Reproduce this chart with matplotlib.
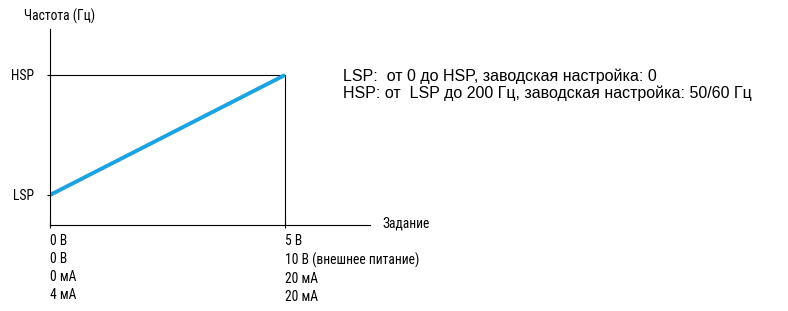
import matplotlib
matplotlib.use("Agg")
import matplotlib.pyplot as plt

# data
x_ref = [0, 5]              # setpoint, V (scale end = 5 V)
freq = [10, 50]             # LSP -> HSP (arbitrary units)
y_ticks = [10, 50]
y_labels = ["LSP", "HSP"]
x_labels = ["0 В\n0 В\n0 мА\n4 мА",
            "5 В\n10 В (внешнее питание)\n20 мА\n20 мА"]
notes = ["LSP:  от 0 до HSP, заводская настройка: 0",
         "HSP: от  LSP до 200 Гц, заводская настройка: 50/60 Гц"]

narrow = ["Roboto Condensed", "DejaVu Sans"]
blue = "#1aa3e0"

fig = plt.figure(figsize=(7.88, 3.11), dpi=100)
ax = fig.add_axes([50 / 788, 86 / 311, 320 / 788, 196 / 311])
ax.set_xlim(0, 320 / 47)
ax.set_ylim(0, 196 / 3)

for s in ["top", "right"]:
    ax.spines[s].set_visible(False)
for s in ["left", "bottom"]:
    ax.spines[s].set_linewidth(0.8)

# frame lines at HSP and 5 V
ax.plot([x_ref[0], x_ref[1]], [freq[1], freq[1]], color="black", lw=0.8)
ax.plot([x_ref[1], x_ref[1]], [0, freq[1]], color="black", lw=0.8)
ax.plot(x_ref, freq, color=blue, lw=2.8, solid_capstyle="butt")

ax.set_yticks(y_ticks)
ax.set_yticklabels(y_labels, family=narrow, fontsize=9.8)
ax.tick_params(axis="y", length=2.5, width=0.8, pad=9)
ax.set_xticks(x_ref)
ax.set_xticklabels(x_labels, family=narrow, fontsize=9.8, ha="left",
                   linespacing=1.36)
ax.tick_params(axis="x", length=4, width=0.8, pad=4.5, direction="inout")

fig.text(24 / 788, 1 - 16 / 311, "Частота (Гц)", family=narrow, fontsize=9.8,
         va="center", ha="left")
fig.text(382 / 788, 1 - 224 / 311, "Задание", family=narrow, fontsize=9.8,
         va="center", ha="left")
fig.text(343 / 788, 1 - 85 / 311, notes[0] + "\n" + notes[1],
         family=["Liberation Sans", "DejaVu Sans"], fontsize=11.5,
         va="center", ha="left", linespacing=1.1)

fig.savefig("out.png", dpi=100)
